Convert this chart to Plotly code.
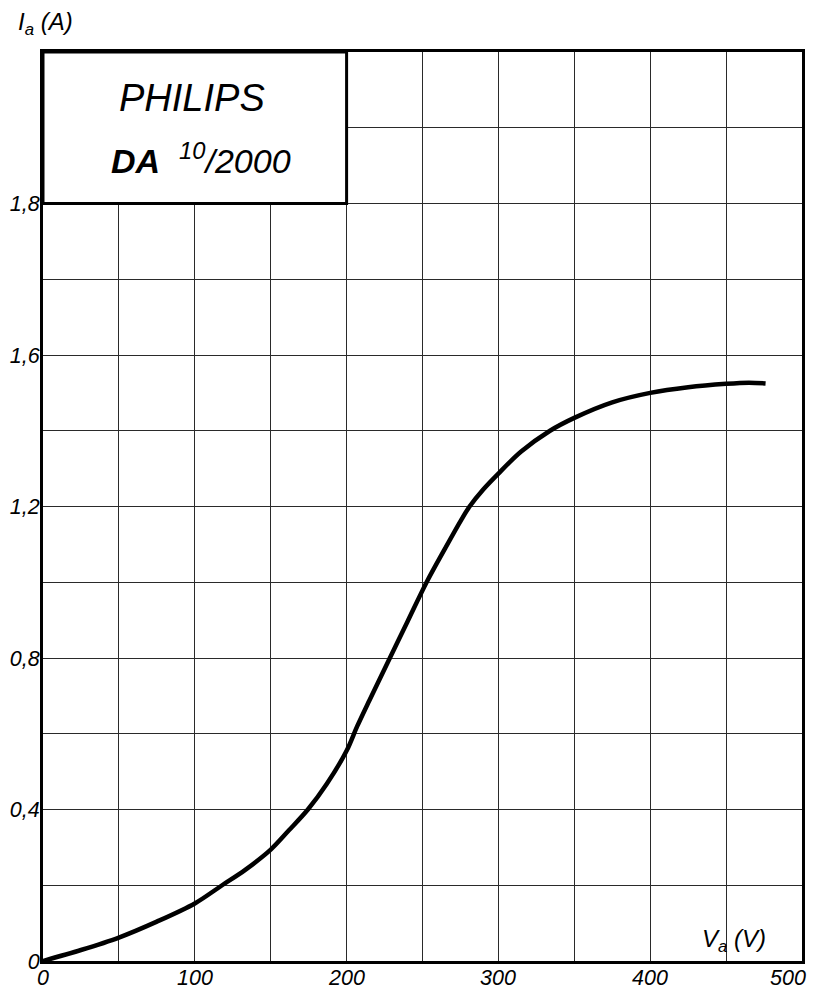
import plotly.graph_objects as go

# Anode voltage (V) and anode current (A)
va = [0, 25, 50, 75, 100, 118, 133, 150, 162, 174.5, 187, 200, 207, 215, 228.5,
      240, 252.7, 265, 276, 281, 290, 300, 315, 334, 350, 375, 400, 425, 450, 465, 476]
ia = [0, 0.029, 0.062, 0.104, 0.152, 0.2, 0.24, 0.294, 0.345, 0.4, 0.468, 0.555,
      0.62, 0.688, 0.8, 0.895, 1.0, 1.09, 1.168, 1.2, 1.245, 1.287, 1.345, 1.40,
      1.434, 1.475, 1.50, 1.515, 1.524, 1.527, 1.525]

x_gridvals = [0, 50, 100, 150, 200, 250, 300, 350, 400, 450, 500]
x_labelvals = [0, 100, 200, 300, 400, 500]
x_labeltext = ["0", "100", "200", "300", "400", "500"]
y_tickvals = [0, 0.2, 0.4, 0.6, 0.8, 1.0, 1.2, 1.4, 1.6, 1.8, 2.0, 2.2, 2.4]
y_ticktext = ["0", "", "0,4", "", "0,8", "", "1,2", "", "1,6", "", "1,8", "", ""]

FONT = "Liberation Sans, Arial, sans-serif"
tick_font = dict(family=FONT, size=21.5, color="black", style="italic")

fig = go.Figure()
fig.add_trace(go.Scatter(
    x=va, y=ia, mode="lines",
    line=dict(color="black", width=4.5, shape="spline", smoothing=0.9),
    hoverinfo="skip", showlegend=False,
))

fig.update_xaxes(
    range=[0, 500], tickmode="array", tickvals=x_gridvals,
    ticktext=[""] * len(x_gridvals),
    showgrid=True, gridcolor="#2a2a2a", gridwidth=1.2, zeroline=False,
    showline=True, linecolor="black", linewidth=3, mirror=True,
    ticks="", ticklen=0, automargin=False,
)
fig.update_yaxes(
    range=[0, 2.4], tickmode="array", tickvals=y_tickvals, ticktext=y_ticktext,
    showgrid=True, gridcolor="#2a2a2a", gridwidth=1.2, zeroline=False,
    showline=True, linecolor="black", linewidth=3, mirror=True,
    ticks="", ticklen=0, tickfont=tick_font, automargin=False,
    ticklabelstandoff=-4, ticklabeloverflow="allow",
)

# x tick labels (last one kept inside the page like the reference)
for v, t in zip(x_labelvals, x_labeltext):
    last = v == x_labelvals[-1]
    fig.add_annotation(x=v, y=0, xref="x", yref="paper", showarrow=False,
                       xanchor="right" if last else "center", yanchor="top",
                       xshift=6 if last else 0, yshift=-3,
                       text=t, font=tick_font)

# Title box
fig.add_shape(type="rect", xref="x", yref="y", x0=0, x1=200, y0=2.0, y1=2.4,
              fillcolor="white", line=dict(color="black", width=3), layer="above")

fig.add_annotation(x=98, y=2.278, xref="x", yref="y", showarrow=False,
                   text="<i>PHILIPS</i>",
                   font=dict(family=FONT, size=38, color="black"))
fig.add_annotation(x=104, y=2.118, xref="x", yref="y", showarrow=False,
                   text="<b><i>DA</i></b>  <i><sup>10</sup>/2000</i>",
                   font=dict(family=FONT, size=34, color="black"))

# Axis titles
fig.add_annotation(x=-0.035, y=1.031, xref="paper", yref="paper", showarrow=False,
                   xanchor="left", yanchor="middle",
                   text="<i>I<sub>a</sub> (A)</i>",
                   font=dict(family=FONT, size=24, color="black"))
fig.add_annotation(x=433, y=0.055, xref="x", yref="y", showarrow=False,
                   xanchor="left", yanchor="middle",
                   text="<i>V<sub>a</sub> (V)</i>",
                   font=dict(family=FONT, size=24, color="black"))

# page body has an 8px margin, so the figure is sized to fit the window
fig.update_layout(
    width=808, height=985, autosize=False,
    margin=dict(l=35, r=14, t=44, b=32),
    plot_bgcolor="white", paper_bgcolor="white",
    showlegend=False,
)

fig.write_html("out.html")
